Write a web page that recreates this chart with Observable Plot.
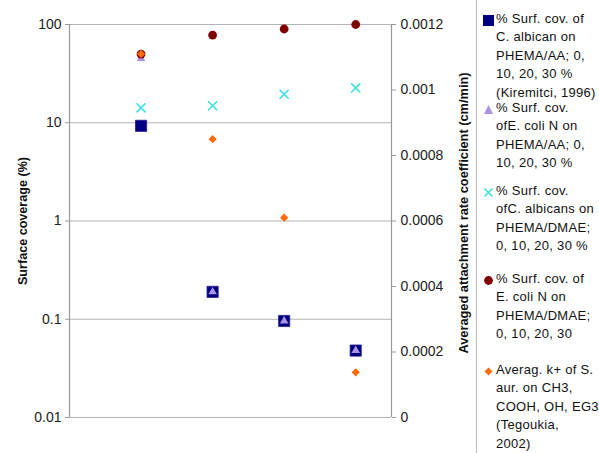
<!DOCTYPE html>
<html><head><meta charset="utf-8">
<script src="https://cdn.jsdelivr.net/npm/d3@7"></script>
<script src="https://cdn.jsdelivr.net/npm/@observablehq/plot@0.6"></script>
<style>
body{margin:0;background:#fff;font-family:"Liberation Sans",Arial,sans-serif;}
#wrap{position:relative;width:599px;height:453px;overflow:hidden;}
#chart{position:absolute;left:0;top:0;}
#legend{position:absolute;left:476px;top:0;width:123px;height:453px;border-left:1px solid #bbb;}
.entry{position:absolute;left:19px;font-size:13px;letter-spacing:0.3px;line-height:18.4px;color:#111;white-space:nowrap;}
.mk{position:absolute;left:5px;}
</style></head><body><div id="wrap"><div id="chart"></div><div id="legend"></div></div>
<script>
// categories (x positions 1..4 = 0, 10, 20, 30 % etc.)
const positions = [1, 2, 3, 4];
// left axis (log, %)
const squareVals = [9.3, 0.19, 0.096, 0.048];     // C. albican PHEMA/AA
const triangleVals = [45, 0.19, 0.096, 0.048];    // E. coli N PHEMA/AA
const crossVals = [14.2, 14.9, 19.5, 22.6];       // C. albicans PHEMA/DMAE
const circleVals = [50, 78, 90, 100];             // E. coli N PHEMA/DMAE
// right axis (linear, cm/min)
const diamondVals = [0.00111, 0.00085, 0.00061, 0.000138];
const leftTicks = [0.01, 0.1, 1, 10, 100];
const rightTicks = [0, 0.0002, 0.0004, 0.0006, 0.0008, 0.001, 0.0012];
const rightTickLabels = ["0", "0.0002", "0.0004", "0.0006", "0.0008", "0.001", "0.0012"];
const legendEntries = [
  ["% Surf. cov. of", "C. albican on", "PHEMA/AA; 0,", "10, 20, 30 %", "(Kiremitci, 1996)"],
  ["% Surf. cov.", "ofE. coli N on", "PHEMA/AA; 0,", "10, 20, 30 %"],
  ["% Surf. cov.", "ofC. albicans on", "PHEMA/DMAE;", "0, 10, 20, 30 %"],
  ["% Surf. cov. of", "E. coli N on", "PHEMA/DMAE;", "0, 10, 20, 30"],
  ["Averag. k+ of S.", "aur. on CH3,", "COOH, OH, EG3", "(Tegoukia,", "2002)"]
];
const legendTops = [10, 99, 182, 270, 361];
const colors = {square: "#000080", triangle: "#ab92e2", cross: "#3ce0e0", circle: "#800000", diamond: "#ff6a0a"};

// map right-axis linear value onto the log y scale
const R_MAX = 0.0012;
const toLeft = v => Math.pow(10, -2 + 4 * v / R_MAX);

const rhombus = {draw(ctx, size) { const h = Math.sqrt(2 * size) / 2; ctx.moveTo(0, -h); ctx.lineTo(h, 0); ctx.lineTo(0, h); ctx.lineTo(-h, 0); ctx.closePath(); }};

const mk = (vals) => positions.map((x, i) => ({x, y: vals[i]}));
const rightTable = rightTicks.map((v, i) => ({y: toLeft(v), label: rightTickLabels[i]}));

const plot = Plot.plot({
  width: 476, height: 453,
  marginLeft: 69, marginRight: 85, marginTop: 24, marginBottom: 36,
  style: {fontFamily: "Liberation Sans, Arial, sans-serif", fontSize: "14px", color: "#222", background: "#fff", overflow: "visible"},
  x: {type: "linear", domain: [0, 4.5], axis: null},
  y: {type: "log", domain: [0.01, 100], axis: null},
  marks: [
    Plot.gridY(leftTicks, {stroke: "#b4b4b4", strokeOpacity: 1}),
    Plot.ruleX([0, 4.5], {stroke: "#999", strokeWidth: 1.2}),
    Plot.axisY(leftTicks, {anchor: "left", label: null, tickSize: 4, tickPadding: 4, stroke: "#999", tickFormat: d => String(d), fill: "#222"}),
    Plot.axisY(rightTable.map(d => d.y), {anchor: "right", label: null, tickSize: 4, stroke: "#999", tickFormat: () => ""}),
    Plot.text(rightTable, {y: "y", text: "label", frameAnchor: "right", textAnchor: "start", dx: 9, fill: "#222", fontSize: 14}),
    Plot.text(["Surface coverage (%)"], {frameAnchor: "left", textAnchor: "middle", rotate: -90, dx: -47, dy: 0, fontWeight: "bold", fontSize: 12.6, fill: "#111"}),
    Plot.text(["Averaged attachment rate coefficient (cm/min)"], {frameAnchor: "right", textAnchor: "middle", rotate: -90, dx: 72, dy: -8, fontWeight: "bold", fontSize: 12.8, fill: "#111"}),
    Plot.dot(mk(squareVals), {x: "x", y: "y", symbol: "square", r: 6.3, fill: colors.square, stroke: "#2a1a8a", strokeWidth: 0.8}),
    Plot.dot(mk(triangleVals), {x: "x", y: "y", symbol: "triangle", r: 3.2, fill: colors.triangle}),
    Plot.dot(mk(crossVals), {x: "x", y: "y", symbol: "times", r: 4.2, stroke: colors.cross, strokeWidth: 1.6}),
    Plot.dot(mk(circleVals), {x: "x", y: "y", symbol: "circle", r: 4.4, fill: colors.circle}),
    Plot.dot(positions.map((x, i) => ({x, y: toLeft(diamondVals[i])})), {x: "x", y: "y", symbol: rhombus, r: 3.3, fill: colors.diamond})
  ]
});
document.getElementById("chart").appendChild(plot);

// legend
const symbolFor = [
  `<rect x="1" y="1" width="11" height="11" fill="${colors.square}"/>`,
  `<path d="M6.5,2 L11,11 L2,11 Z" fill="${colors.triangle}"/>`,
  `<path d="M2.5,2.5 L10.5,10.5 M10.5,2.5 L2.5,10.5" stroke="${colors.cross}" stroke-width="1.6"/>`,
  `<circle cx="6.5" cy="6.5" r="4.4" fill="${colors.circle}"/>`,
  `<path d="M6.5,2.5 L10.5,6.5 L6.5,10.5 L2.5,6.5 Z" fill="${colors.diamond}"/>`
];
const legend = document.getElementById("legend");
legendEntries.forEach((lines, i) => {
  const e = document.createElement("div");
  e.className = "entry";
  e.style.top = legendTops[i] + "px";
  e.innerHTML = lines.map(l => `<div>${l}</div>`).join("");
  legend.appendChild(e);
  const m = document.createElement("div");
  m.className = "mk";
  m.style.top = (legendTops[i] + 3) + "px";
  m.innerHTML = `<svg width="13" height="13">${symbolFor[i]}</svg>`;
  legend.appendChild(m);
});
</script></body></html>
